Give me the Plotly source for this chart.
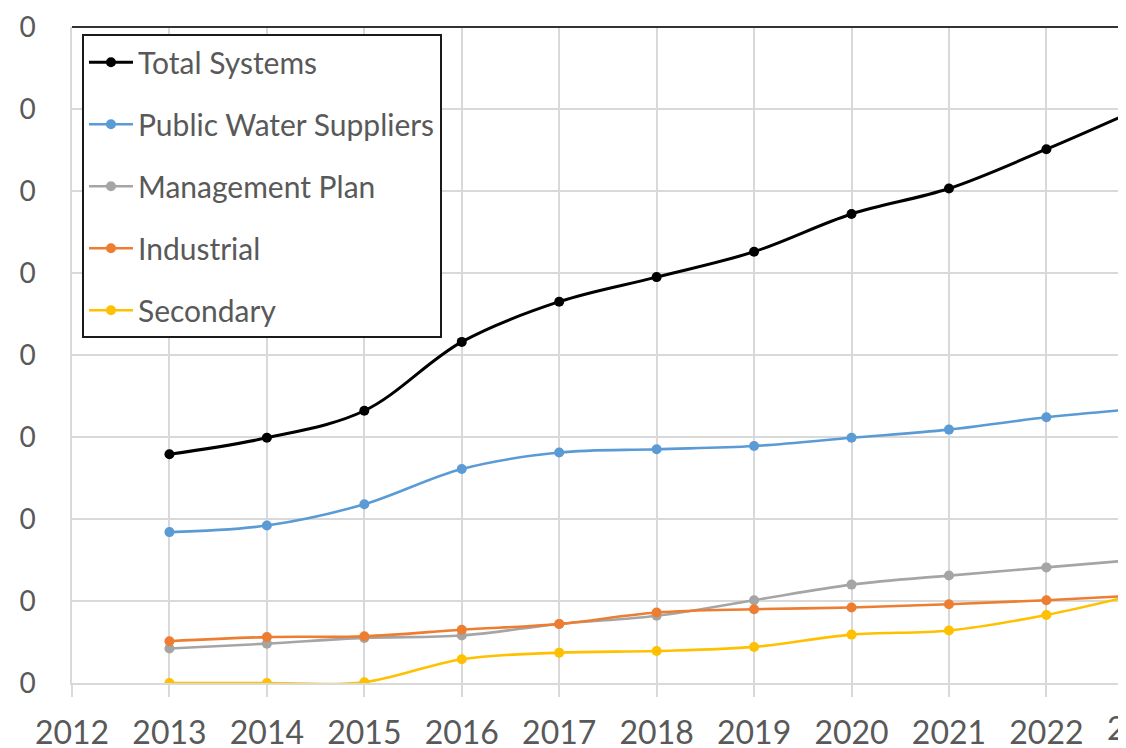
import plotly.graph_objects as go

years = [2013, 2014, 2015, 2016, 2017, 2018, 2019, 2020, 2021, 2022, 2023]

total_systems = [279, 299, 332, 416, 465, 495, 526, 572, 603, 651, 703]
public_water = [184, 192, 218, 261, 281, 285, 289, 299, 309, 324, 335]
management_plan = [42, 48, 55, 58, 72, 82, 101, 120, 131, 141, 151]
industrial = [51, 56, 57, 65, 72, 86, 90, 92, 96, 101, 107]
secondary = [0, 0, 1, 29, 37, 39, 44, 59, 64, 83, 110]

series_names = ["Total Systems", "Public Water Suppliers", "Management Plan",
                "Industrial", "Secondary"]
series_values = [total_systems, public_water, management_plan, industrial, secondary]
series_colors = ["#000000", "#5B9BD5", "#A5A5A5", "#ED7D31", "#FFC000"]

x_tick_vals = [2012, 2013, 2014, 2015, 2016, 2017, 2018, 2019, 2020, 2021, 2022]
x_tick_labels = ["2012", "2013", "2014", "2015", "2016", "2017", "2018",
                 "2019", "2020", "2021", "2022"]
cut_x_label = "2023"
cut_x_value = 2023
y_tick_vals = [0, 100, 200, 300, 400, 500, 600, 700, 800]
y_tick_labels = ["0", "0", "0", "0", "0", "0", "0", "0", "0"]

x_range = [2012, 2022.776]
y_range = [0, 800]

TEXT = "#595959"
GRID = "#D9D9D9"
FONT = "Lato"

fig = go.Figure()
for i, (name, vals, col) in enumerate(zip(series_names, series_values, series_colors)):
    fig.add_trace(go.Scatter(
        x=years, y=vals, name=name, mode="lines+markers",
        line=dict(color=col, width=3 if i == 0 else 2.6, shape="spline", smoothing=1),
        marker=dict(color=col, size=10),
        legendgroup=f"g{i}",
    ))

fig.update_layout(
    width=1118, height=740,
    margin=dict(l=64, r=4, t=19, b=65, autoexpand=False),
    paper_bgcolor="white", plot_bgcolor="white",
    font=dict(family=FONT, color=TEXT),
    showlegend=True,
    legend=dict(
        x=0.0095, y=0.989, xanchor="left", yanchor="top",
        bgcolor="white", bordercolor="#1a1a1a", borderwidth=2,
        font=dict(family=FONT, size=30, color=TEXT),
        tracegroupgap=20, traceorder="grouped", itemwidth=44,
    ),
    xaxis=dict(
        range=x_range, tickmode="array", tickvals=x_tick_vals, ticktext=x_tick_labels,
        showgrid=True, gridcolor=GRID, gridwidth=1.5,
        showline=True, linecolor=GRID, linewidth=1.5,
        ticks="outside", ticklen=12, tickcolor=GRID, tickwidth=1.5,
        tickfont=dict(family=FONT, size=32, color=TEXT),
        zeroline=False, automargin=False, ticklabelstandoff=9,
    ),
    yaxis=dict(
        range=y_range, tickmode="array", tickvals=y_tick_vals, ticktext=y_tick_labels,
        showgrid=True, gridcolor=GRID, gridwidth=1.5,
        showline=True, linecolor=GRID, linewidth=1.5,
        ticks="", zeroline=False, automargin=False,
        tickfont=dict(family=FONT, size=28, color=TEXT),
        ticklabelstandoff=29,
    ),
    shapes=[dict(type="line", xref="paper", yref="paper", x0=0, x1=1, y0=1, y1=1,
                 line=dict(color="#333333", width=2), layer="above")],
    annotations=[dict(
        text=cut_x_label, xref="paper", yref="paper",
        x=(cut_x_value - x_range[0]) / (x_range[1] - x_range[0]), y=0,
        xanchor="center", yanchor="top", yshift=-23, showarrow=False,
        font=dict(family=FONT, size=32, color=TEXT),
    )],
)

fig.write_html("out.html")
